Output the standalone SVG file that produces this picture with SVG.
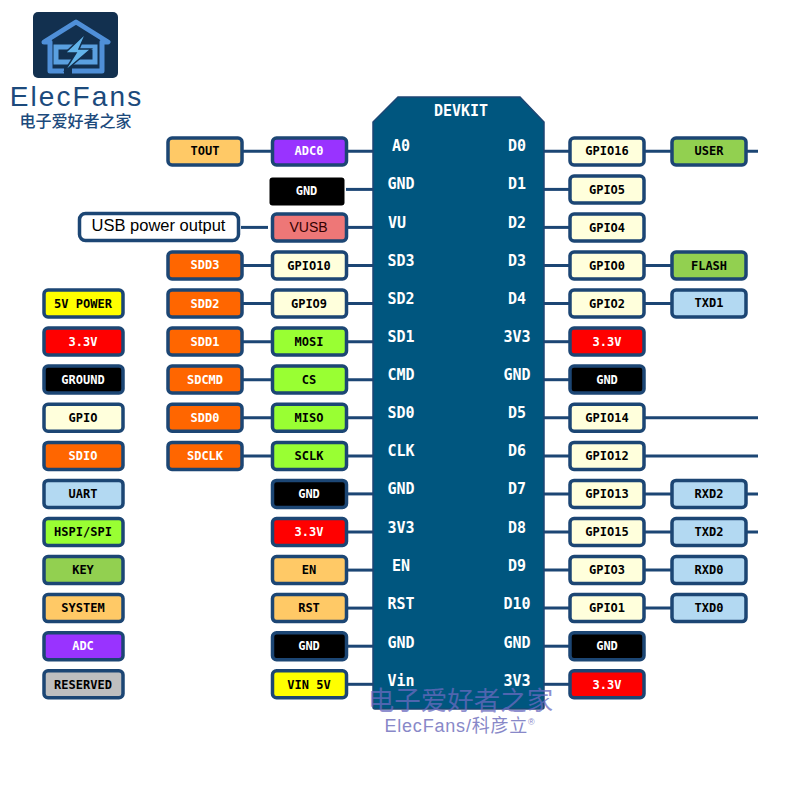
<svg xmlns="http://www.w3.org/2000/svg" width="800" height="800" viewBox="0 0 800 800">
<style>
text{font-family:"DejaVu Sans Mono","Liberation Mono",monospace;font-weight:700;font-size:12px;text-anchor:middle}
.b rect{stroke:#1c4674;stroke-width:3.5}
.l{fill:#000}.w{fill:#fff}
.pin{fill:#fff;font-size:15px}
.c line{stroke:#1c4674;stroke-width:3}
.gpio{fill:#ffffdc}.red{fill:#ff0000}.blk{fill:#000}.org{fill:#ff6600}.lime{fill:#99ff33}.sys{fill:#ffc966}.pur{fill:#9933ff}.sky{fill:#b3d9f2}.grn{fill:#92d050}.yel{fill:#ffff00}.gry{fill:#bfbfbf}
</style>
<rect width="800" height="800" fill="#fff"/>
<g id="logo">
<rect x="33" y="12" width="85" height="66" rx="5" fill="#12304f"/>
<path d="M64 71H50V42H44L76 22L108 42H102V71H72" fill="none" stroke="#4f8fd8" stroke-width="5" stroke-linejoin="round"/>
<rect x="56" y="47" width="39" height="15" fill="none" stroke="#5aa0e0" stroke-width="5"/>
<path d="M86 33L65 53H76L64 72L91 49H79Z" fill="#62b4ea" stroke="#12304f" stroke-width="1.500"/>
<text x="76.500" y="106" style="font-family:'Liberation Sans',sans-serif;font-size:28px;font-weight:400;letter-spacing:2.1px;fill:#1c4a7c">ElecFans</text>
<text x="75.500" y="127" style="font-family:'Noto Sans CJK SC',sans-serif;font-size:16px;font-weight:500;fill:#1c4a7c">电子爱好者之家</text>
</g>
<g id="connectors" class="c">
<line x1="243" x2="373" y1="151.300" y2="151.300"/>
<line x1="346" x2="373" y1="189.400" y2="189.400"/>
<line x1="241" x2="268" y1="227.400" y2="227.400"/>
<line x1="346" x2="373" y1="227.400" y2="227.400"/>
<line x1="243" x2="373" y1="265.500" y2="265.500"/>
<line x1="243" x2="373" y1="303.600" y2="303.600"/>
<line x1="243" x2="373" y1="341.700" y2="341.700"/>
<line x1="243" x2="373" y1="379.700" y2="379.700"/>
<line x1="243" x2="373" y1="417.800" y2="417.800"/>
<line x1="243" x2="373" y1="455.900" y2="455.900"/>
<line x1="346" x2="373" y1="493.900" y2="493.900"/>
<line x1="346" x2="373" y1="532" y2="532"/>
<line x1="346" x2="373" y1="570.100" y2="570.100"/>
<line x1="346" x2="373" y1="608.100" y2="608.100"/>
<line x1="346" x2="373" y1="646.200" y2="646.200"/>
<line x1="346" x2="373" y1="684.300" y2="684.300"/>
<line x1="544" x2="758" y1="151.300" y2="151.300"/>
<line x1="544" x2="570" y1="189.400" y2="189.400"/>
<line x1="544" x2="570" y1="227.400" y2="227.400"/>
<line x1="544" x2="672" y1="265.500" y2="265.500"/>
<line x1="544" x2="672" y1="303.600" y2="303.600"/>
<line x1="544" x2="570" y1="341.700" y2="341.700"/>
<line x1="544" x2="570" y1="379.700" y2="379.700"/>
<line x1="544" x2="758" y1="417.800" y2="417.800"/>
<line x1="544" x2="758" y1="455.900" y2="455.900"/>
<line x1="544" x2="758" y1="493.900" y2="493.900"/>
<line x1="544" x2="758" y1="532" y2="532"/>
<line x1="544" x2="672" y1="570.100" y2="570.100"/>
<line x1="544" x2="672" y1="608.100" y2="608.100"/>
<line x1="544" x2="570" y1="646.200" y2="646.200"/>
<line x1="544" x2="570" y1="684.300" y2="684.300"/>
</g>
<g id="chip">
<path d="M398 97H520L544 122V707a2 2 0 0 1-2 2H375a2 2 0 0 1-2-2V122Z" fill="#00567f" stroke="#1c4674" stroke-width="1.500"/>
<text class="pin" x="461" y="116">DEVKIT</text>
<text class="pin" x="401" y="151">A0</text><text class="pin" x="401" y="189">GND</text><text class="pin" x="397" y="228">VU</text><text class="pin" x="401" y="266">SD3</text><text class="pin" x="401" y="304">SD2</text><text class="pin" x="401" y="342">SD1</text><text class="pin" x="401" y="380">CMD</text><text class="pin" x="401" y="418">SD0</text><text class="pin" x="401" y="456">CLK</text><text class="pin" x="401" y="494">GND</text><text class="pin" x="401" y="533">3V3</text><text class="pin" x="401" y="571">EN</text><text class="pin" x="401" y="609">RST</text><text class="pin" x="401" y="648">GND</text><text class="pin" x="401" y="686">Vin</text>
<text class="pin" x="517" y="151">D0</text><text class="pin" x="517" y="189">D1</text><text class="pin" x="517" y="228">D2</text><text class="pin" x="517" y="266">D3</text><text class="pin" x="517" y="304">D4</text><text class="pin" x="517" y="342">3V3</text><text class="pin" x="517" y="380">GND</text><text class="pin" x="517" y="418">D5</text><text class="pin" x="517" y="456">D6</text><text class="pin" x="517" y="494">D7</text><text class="pin" x="517" y="533">D8</text><text class="pin" x="517" y="571">D9</text><text class="pin" x="517" y="609">D10</text><text class="pin" x="517" y="648">GND</text><text class="pin" x="517" y="686">3V3</text>
</g>
<g id="tout" class="b"><rect class="sys" x="168" y="138" width="74" height="27" rx="4"/><text class="l" x="205" y="155">TOUT</text></g>
<g id="adc0" class="b"><rect class="pur" x="272.500" y="138" width="74" height="27" rx="4"/><text class="w" x="309" y="155">ADC0</text></g>
<g id="gnd-l1"><rect class="blk" x="269.500" y="177.500" width="75" height="28" rx="3"/><text class="w" x="306.500" y="195">GND</text></g>
<g id="usb-power" class="b"><rect fill="#fff" x="79.500" y="213.500" width="159" height="27" rx="6"/><text x="158.500" y="231" style="font-family:'Liberation Sans',sans-serif;font-weight:400;font-size:16.500px;fill:#000">USB power output</text></g>
<g id="vusb" class="b"><rect fill="#ee7777" x="272.500" y="214" width="74" height="27" rx="4"/><text x="308.500" y="232" style="font-family:'Liberation Sans',sans-serif;font-weight:400;font-size:14px;fill:#300">VUSB</text></g>
<g id="sdd3" class="b"><rect class="org" x="168" y="252" width="74" height="27" rx="4"/><text class="w" x="205" y="269">SDD3</text></g>
<g id="gpio10" class="b"><rect class="gpio" x="272.500" y="252" width="74" height="27" rx="4"/><text class="l" x="309" y="269.500">GPIO10</text></g>
<g id="sdd2" class="b"><rect class="org" x="168" y="290" width="74" height="27" rx="4"/><text class="w" x="205" y="307.500">SDD2</text></g>
<g id="gpio9" class="b"><rect class="gpio" x="272.500" y="290" width="74" height="27" rx="4"/><text class="l" x="309" y="307.500">GPIO9</text></g>
<g id="sdd1" class="b"><rect class="org" x="168" y="328" width="74" height="27" rx="4"/><text class="w" x="205" y="345.500">SDD1</text></g>
<g id="mosi" class="b"><rect class="lime" x="272.500" y="328" width="74" height="27" rx="4"/><text class="l" x="309" y="345.500">MOSI</text></g>
<g id="sdcmd" class="b"><rect class="org" x="168" y="366" width="74" height="27" rx="4"/><text class="w" x="205" y="383.500">SDCMD</text></g>
<g id="cs" class="b"><rect class="lime" x="272.500" y="366" width="74" height="27" rx="4"/><text class="l" x="309" y="383.500">CS</text></g>
<g id="sdd0" class="b"><rect class="org" x="168" y="404.300" width="74" height="27" rx="4"/><text class="w" x="205" y="422">SDD0</text></g>
<g id="miso" class="b"><rect class="lime" x="272.500" y="404.300" width="74" height="27" rx="4"/><text class="l" x="309" y="422">MISO</text></g>
<g id="sdclk" class="b"><rect class="org" x="168" y="442.400" width="74" height="27" rx="4"/><text class="w" x="205" y="460">SDCLK</text></g>
<g id="sclk" class="b"><rect class="lime" x="272.500" y="442.400" width="74" height="27" rx="4"/><text class="l" x="309" y="460">SCLK</text></g>
<g id="gnd-l2" class="b"><rect class="blk" x="272.500" y="480.400" width="74" height="27" rx="4"/><text class="w" x="309" y="498">GND</text></g>
<g id="v33-l" class="b"><rect class="red" x="272.500" y="518.500" width="74" height="27" rx="4"/><text class="w" x="309" y="536">3.3V</text></g>
<g id="en" class="b"><rect class="sys" x="272.500" y="556.600" width="74" height="27" rx="4"/><text class="l" x="309" y="574">EN</text></g>
<g id="rst" class="b"><rect class="sys" x="272.500" y="594.600" width="74" height="27" rx="4"/><text class="l" x="309" y="612">RST</text></g>
<g id="gnd-l3" class="b"><rect class="blk" x="272.500" y="632.700" width="74" height="27" rx="4"/><text class="w" x="309" y="650">GND</text></g>
<g id="vin5v" class="b"><rect class="yel" x="272.500" y="670.800" width="74" height="27" rx="4"/><text class="l" x="309" y="688.500">VIN 5V</text></g>
<g id="leg-5v" class="b"><rect class="yel" x="44" y="290" width="79" height="27" rx="4"/><text class="l" x="83" y="307.500">5V POWER</text></g>
<g id="leg-33" class="b"><rect class="red" x="44" y="328" width="79" height="27" rx="4"/><text class="w" x="83" y="345.500">3.3V</text></g>
<g id="leg-ground" class="b"><rect class="blk" x="44" y="366" width="79" height="27" rx="4"/><text class="w" x="83" y="383.500">GROUND</text></g>
<g id="leg-gpio" class="b"><rect class="gpio" x="44" y="404.300" width="79" height="27" rx="4"/><text class="l" x="83" y="422">GPIO</text></g>
<g id="leg-sdio" class="b"><rect class="org" x="44" y="442.400" width="79" height="27" rx="4"/><text class="w" x="83" y="460">SDIO</text></g>
<g id="leg-uart" class="b"><rect class="sky" x="44" y="480.400" width="79" height="27" rx="4"/><text class="l" x="83" y="498">UART</text></g>
<g id="leg-spi" class="b"><rect class="lime" x="44" y="518.500" width="79" height="27" rx="4"/><text class="l" x="83" y="536">HSPI/SPI</text></g>
<g id="leg-key" class="b"><rect class="grn" x="44" y="556.600" width="79" height="27" rx="4"/><text class="l" x="83" y="574">KEY</text></g>
<g id="leg-system" class="b"><rect class="sys" x="44" y="594.600" width="79" height="27" rx="4"/><text class="l" x="83" y="612">SYSTEM</text></g>
<g id="leg-adc" class="b"><rect class="pur" x="44" y="632.700" width="79" height="27" rx="4"/><text class="w" x="83" y="650">ADC</text></g>
<g id="leg-reserved" class="b"><rect class="gry" x="44" y="670.800" width="79" height="27" rx="4"/><text class="l" x="83" y="688.500">RESERVED</text></g>
<g id="gpio16" class="b"><rect class="gpio" x="570" y="138" width="74" height="27" rx="4"/><text class="l" x="607" y="155">GPIO16</text></g>
<g id="user" class="b"><rect class="grn" x="672" y="138" width="74" height="27" rx="4"/><text class="l" x="709" y="155">USER</text></g>
<g id="gpio5" class="b"><rect class="gpio" x="570" y="176" width="74" height="27" rx="4"/><text class="l" x="607" y="193.500">GPIO5</text></g>
<g id="gpio4" class="b"><rect class="gpio" x="570" y="214" width="74" height="27" rx="4"/><text class="l" x="607" y="231.500">GPIO4</text></g>
<g id="gpio0" class="b"><rect class="gpio" x="570" y="252" width="74" height="27" rx="4"/><text class="l" x="607" y="269.500">GPIO0</text></g>
<g id="flash" class="b"><rect class="grn" x="672" y="252" width="74" height="27" rx="4"/><text class="l" x="709" y="269.500">FLASH</text></g>
<g id="gpio2" class="b"><rect class="gpio" x="570" y="290" width="74" height="27" rx="4"/><text class="l" x="607" y="307.500">GPIO2</text></g>
<g id="txd1" class="b"><rect class="sky" x="672" y="290" width="74" height="27" rx="4"/><text class="l" x="709" y="307">TXD1</text></g>
<g id="v33-r1" class="b"><rect class="red" x="570" y="328" width="74" height="27" rx="4"/><text class="w" x="607" y="345.500">3.3V</text></g>
<g id="gnd-r1" class="b"><rect class="blk" x="570" y="366" width="74" height="27" rx="4"/><text class="w" x="607" y="383.500">GND</text></g>
<g id="gpio14" class="b"><rect class="gpio" x="570" y="404.300" width="74" height="27" rx="4"/><text class="l" x="607" y="422">GPIO14</text></g>
<g id="gpio12" class="b"><rect class="gpio" x="570" y="442.400" width="74" height="27" rx="4"/><text class="l" x="607" y="460">GPIO12</text></g>
<g id="gpio13" class="b"><rect class="gpio" x="570" y="480.400" width="74" height="27" rx="4"/><text class="l" x="607" y="498">GPIO13</text></g>
<g id="rxd2" class="b"><rect class="sky" x="672" y="480.400" width="74" height="27" rx="4"/><text class="l" x="709" y="498">RXD2</text></g>
<g id="gpio15" class="b"><rect class="gpio" x="570" y="518.500" width="74" height="27" rx="4"/><text class="l" x="607" y="536">GPIO15</text></g>
<g id="txd2" class="b"><rect class="sky" x="672" y="518.500" width="74" height="27" rx="4"/><text class="l" x="709" y="536">TXD2</text></g>
<g id="gpio3" class="b"><rect class="gpio" x="570" y="556.600" width="74" height="27" rx="4"/><text class="l" x="607" y="574">GPIO3</text></g>
<g id="rxd0" class="b"><rect class="sky" x="672" y="556.600" width="74" height="27" rx="4"/><text class="l" x="709" y="574">RXD0</text></g>
<g id="gpio1" class="b"><rect class="gpio" x="570" y="594.600" width="74" height="27" rx="4"/><text class="l" x="607" y="612">GPIO1</text></g>
<g id="txd0" class="b"><rect class="sky" x="672" y="594.600" width="74" height="27" rx="4"/><text class="l" x="709" y="612">TXD0</text></g>
<g id="gnd-r2" class="b"><rect class="blk" x="570" y="632.700" width="74" height="27" rx="4"/><text class="w" x="607" y="650">GND</text></g>
<g id="v33-r2" class="b"><rect class="red" x="570" y="670.800" width="74" height="27" rx="4"/><text class="w" x="607" y="688.500">3.3V</text></g>
<g id="watermark">
<text x="460.500" y="710" style="font-family:'Noto Sans CJK SC',sans-serif;font-size:26.500px;font-weight:400;fill:#6a6ac0;fill-opacity:.75">电子爱好者之家</text>
<text x="460" y="732" style="font-family:'Liberation Sans','Noto Sans CJK SC',sans-serif;font-size:18px;font-weight:400;letter-spacing:.8px;fill:#8888c8">ElecFans/科彦立<tspan font-size="9" dy="-7">®</tspan></text>
</g>
</svg>
